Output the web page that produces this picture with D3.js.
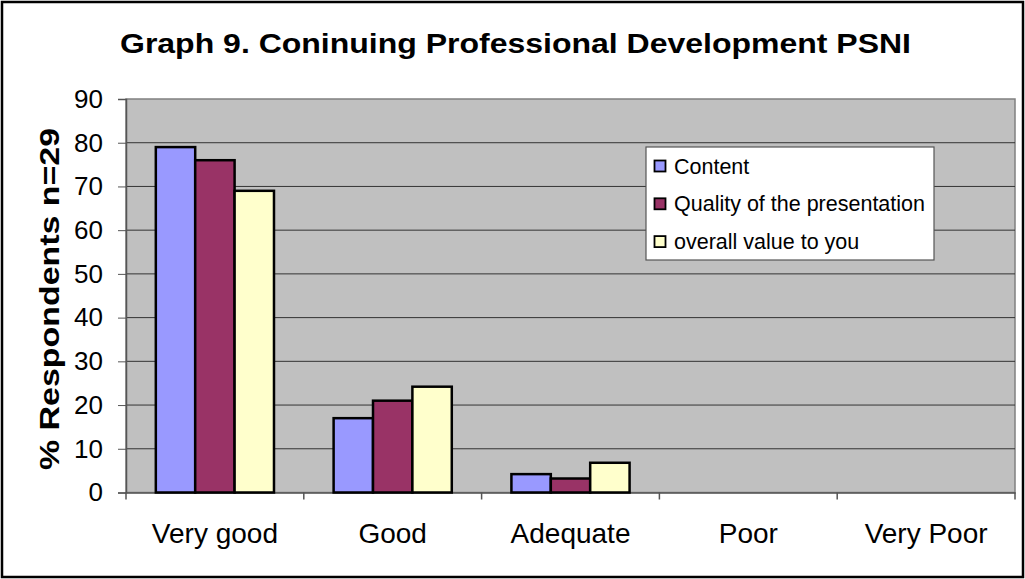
<!DOCTYPE html>
<html>
<head>
<meta charset="utf-8">
<script src="https://cdn.jsdelivr.net/npm/d3@7"></script>
<style>
  html, body { margin: 0; padding: 0; background: #fff; }
  svg { display: block; font-family: "Liberation Sans", Arial, sans-serif; }
</style>
</head>
<body>
<svg id="chart" width="1025" height="579"></svg>
<script>
// Ratings and response percentages
const categories = ["Very good", "Good", "Adequate", "Poor", "Very Poor"];
const seriesNames = ["Content", "Quality of the presentation", "overall value to you"];
const content = [79, 17, 4.2, 0, 0];
const quality = [76, 21, 3.2, 0, 0];
const overall = [69, 24.2, 6.8, 0, 0];
const yTicks = [0, 10, 20, 30, 40, 50, 60, 70, 80, 90];
const colors = ["#9999ff", "#993366", "#ffffcc"];

const seriesValues = [content, quality, overall];
const rows = categories.map((c, i) => ({
  category: c,
  values: seriesNames.map((s, k) => ({ series: s, k, value: seriesValues[k][i] }))
}));

const svg = d3.select("#chart");
const W = 1025, H = 579;
const plot = { left: 126, right: 1015, top: 99, bottom: 492.5 };
const FONT = "Liberation Sans, Arial, sans-serif";

// Outer frame
svg.append("rect")
  .attr("x", 2).attr("y", 2).attr("width", W - 4).attr("height", H - 4)
  .attr("fill", "#fff").attr("stroke", "#000").attr("stroke-width", 2.5);

// Title
svg.append("text")
  .attr("x", 120).attr("y", 53)
  .attr("textLength", 791).attr("lengthAdjust", "spacingAndGlyphs")
  .style("font-size", "28px").attr("font-weight", "bold")
  .text("Graph 9. Coninuing Professional Development PSNI");

const x0 = d3.scaleBand().domain(categories).range([plot.left, plot.right]).paddingInner(0).paddingOuter(0);
const x1 = d3.scaleBand().domain(seriesNames).range([0, x0.bandwidth()]).paddingInner(0).paddingOuter(0.757);
const y = d3.scaleLinear().domain([0, 90]).range([plot.bottom, plot.top]);

// Plot background
svg.append("rect")
  .attr("x", plot.left).attr("y", plot.top)
  .attr("width", plot.right - plot.left).attr("height", plot.bottom - plot.top)
  .attr("fill", "#c0c0c0").attr("stroke", "#808080").attr("stroke-width", 1.5);

// Gridlines
svg.append("g").selectAll("line")
  .data(yTicks.filter(t => t > 0 && t < 90))
  .join("line")
  .attr("x1", plot.left).attr("x2", plot.right)
  .attr("y1", d => y(d)).attr("y2", d => y(d))
  .attr("stroke", "#333").attr("stroke-width", 1);

// Y axis
const yAxis = svg.append("g")
  .attr("transform", `translate(${plot.left},0)`)
  .call(d3.axisLeft(y).tickValues(yTicks).tickSize(8).tickPadding(15));
yAxis.select(".domain").attr("stroke", "#555").attr("stroke-width", 1.5);
yAxis.selectAll(".tick line").attr("stroke", "#555");
yAxis.selectAll("text").style("font-size", "26px").attr("fill", "#000")
  .style("font-family", FONT);

// X axis
const xAxis = svg.append("g")
  .attr("transform", `translate(0,${plot.bottom})`)
  .call(d3.axisBottom(x0).tickSize(0).tickPadding(28));
xAxis.select(".domain").attr("stroke", "#555").attr("stroke-width", 1.5);
xAxis.selectAll("text").style("font-size", "28px").attr("fill", "#000")
  .style("font-family", FONT)
  .attr("dy", null).attr("y", 50);
// Category separators
svg.append("g").selectAll("line")
  .data(categories.concat(["__end"]))
  .join("line")
  .attr("x1", (d, i) => plot.left + i * x0.bandwidth())
  .attr("x2", (d, i) => plot.left + i * x0.bandwidth())
  .attr("y1", plot.bottom).attr("y2", plot.bottom + 7)
  .attr("stroke", "#555").attr("stroke-width", 1.5);

// Y axis title
svg.append("text")
  .attr("transform", "translate(59,470) rotate(-90)")
  .attr("textLength", 342).attr("lengthAdjust", "spacingAndGlyphs")
  .style("font-size", "28px").attr("font-weight", "bold")
  .text("% Respondents n=29");

// Bars
svg.append("g").selectAll("g")
  .data(rows)
  .join("g")
  .attr("transform", d => `translate(${x0(d.category)},0)`)
  .selectAll("rect")
  .data(d => d.values.filter(v => v.value > 0))
  .join("rect")
  .attr("x", d => x1(d.series))
  .attr("y", d => y(d.value))
  .attr("width", x1.bandwidth())
  .attr("height", d => y(0) - y(d.value))
  .attr("fill", d => colors[d.k])
  .attr("stroke", "#000").attr("stroke-width", 2.5);

// Legend
const lg = svg.append("g").attr("transform", "translate(646,147)");
lg.append("rect").attr("width", 288).attr("height", 113)
  .attr("fill", "#fff").attr("stroke", "#555").attr("stroke-width", 1.2);
const items = lg.selectAll("g.item")
  .data(seriesNames)
  .join("g").attr("class", "item")
  .attr("transform", (d, i) => `translate(0,${19 + i * 37.8})`);
items.append("rect")
  .attr("x", 8.5).attr("y", -5.5).attr("width", 11).attr("height", 11)
  .attr("fill", (d, i) => colors[i]).attr("stroke", "#000").attr("stroke-width", 1.8);
items.append("text")
  .attr("x", 28).attr("y", 7.5)
  .style("font-size", "21.5px")
  .text(d => d);
</script>
</body>
</html>
